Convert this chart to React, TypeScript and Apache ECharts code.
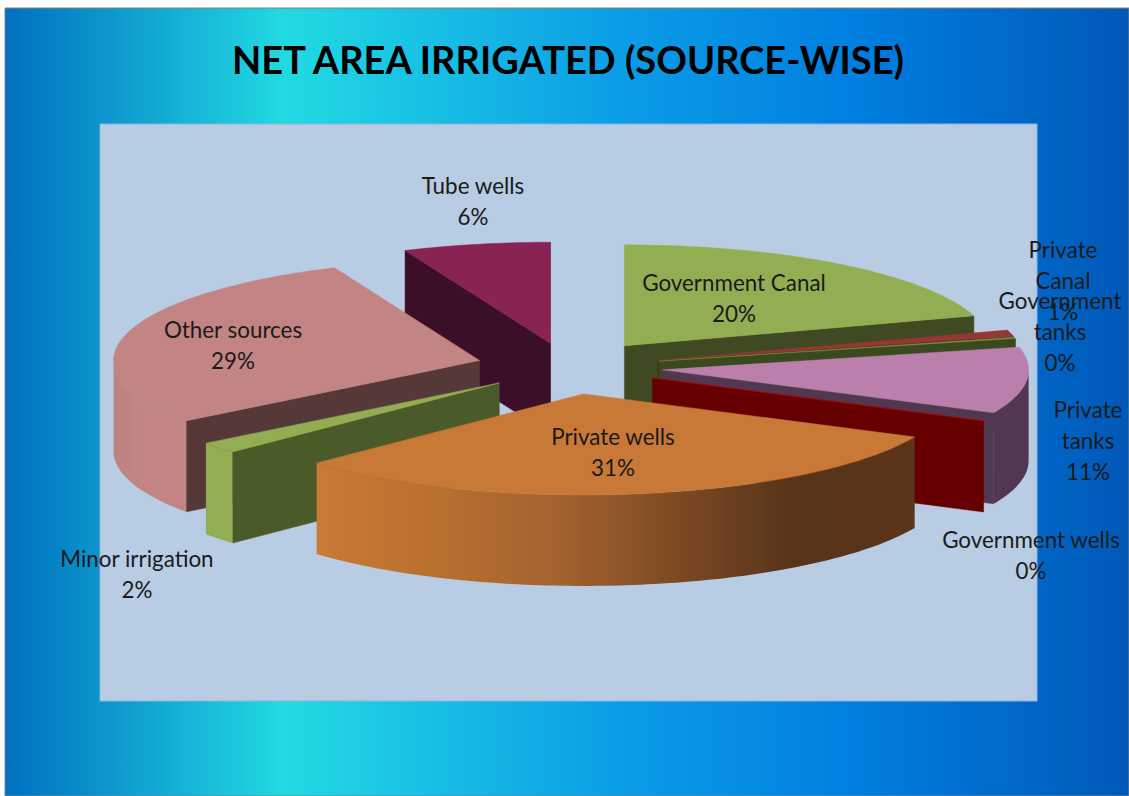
import React, { useEffect, useRef } from "react";
import * as echarts from "echarts";

const titleText = "NET AREA IRRIGATED (SOURCE-WISE)";
const categories = ["Government Canal", "Private Canal", "Government tanks", "Private tanks", "Government wells", "Private wells", "Minor irrigation", "Other sources", "Tube wells"];
const shares = [20.2, 1, 0.2, 10.6, 0, 31, 1.8, 28.71, 6.49];
const explosions = [0.26, 0.255, 0.255, 0.26, 0.255, 0.27, 0.245, 0.25, 0.24];
const topColors = ["#93ae52", "#953735", "#76923c", "#ba80ab", "#c00000", "#c87837", "#93ae52", "#c28583", "#892353"];
const cutColors = ["#3f4a22", "#4b1c1b", "#3b491e", "#513850", "#660000", "#57331a", "#4b5a29", "#573838", "#3a0f27"];
const wallStops: string[][] = [
  ["#3f4a22"], ["#4b1c1b"], ["#3b491e"], ["#513850"], ["#660000"],
  ["#c97a36", "#b8702f", "#a5622f", "#7c4a23", "#57331a", "#5a351a"],
  ["#93ae52"], ["#b98280", "#c28583", "#c28583", "#c28583"], ["#3a0f27"],
];
const paintOrder = [1, 2, 3, 4, 5, 8, 7, 6, 0];
const wrappedLabels = [1, 2, 3];
const labelAnchors = [[734, 298], [1063, 280], [1060, 331], [1088, 440], [1031, 555], [613, 452], [137, 574], [233, 345], [473, 201]];

const PIE = { cx: 568, cy: 367, rx: 366, ry: 101, depth: 91 };
const FONT = "Lato, 'Open Sans', sans-serif";

export default function App() {
  const ref = useRef<HTMLDivElement>(null);
  useEffect(() => {
    const chart = echarts.init(ref.current!, null, { renderer: "svg" });
    const total = shares.reduce((a, b) => a + b, 0);
    const startAngles: number[] = [];
    shares.reduce((acc, v, i) => {
      startAngles[i] = acc;
      return acc + (v / total) * 2 * Math.PI;
    }, 0);

    const renderItem = (params: any) => {
      const i = params.dataIndex;
      const a0 = startAngles[i];
      const a1 = a0 + (shares[i] / total) * 2 * Math.PI;
      const mid = (a0 + a1) / 2;
      const e = explosions[i];
      const ax = PIE.cx + e * PIE.rx * Math.sin(mid);
      const ay = PIE.cy - e * PIE.ry * Math.cos(mid);
      const at = (t: number, dz = 0) => [ax + PIE.rx * Math.sin(t), ay - PIE.ry * Math.cos(t) + dz];
      const arc = (from: number, to: number, dz = 0) => {
        const n = Math.max(1, Math.ceil((to - from) / 0.02));
        const pts: number[][] = [];
        for (let k = 0; k <= n; k++) pts.push(at(from + ((to - from) * k) / n, dz));
        return pts;
      };
      const z = paintOrder[i] * 10;
      const children: any[] = [];
      const cut = (t: number, k: number) => {
        children.push({
          type: "polygon", z2: z + k,
          shape: { points: [[ax, ay], at(t), at(t, PIE.depth), [ax, ay + PIE.depth]] },
          style: { fill: cutColors[i], stroke: cutColors[i], lineWidth: 0.5 },
        });
      };
      if (Math.sin(a0) < 0 && shares[i] > 0) cut(a0, 1);
      if (Math.sin(a1) > 0) cut(a1, 2);
      const w0 = Math.max(a0, Math.PI / 2);
      const w1 = Math.min(a1, (3 * Math.PI) / 2);
      if (w1 > w0) {
        const stops = wallStops[i];
        const fill = stops.length > 1
          ? new echarts.graphic.LinearGradient(0, 0, 1, 0, stops.map((c, s) => ({ offset: s / (stops.length - 1), color: c })))
          : stops[0];
        children.push({
          type: "polygon", z2: z + 3,
          shape: { points: [...arc(w0, w1), ...arc(w0, w1, PIE.depth).reverse()] },
          style: { fill },
        });
      }
      children.push({
        type: "polygon", z2: z + 4,
        shape: { points: [[ax, ay], ...arc(a0, a1)] },
        style: { fill: topColors[i], stroke: topColors[i], lineWidth: 0.5 },
      });
      const name = wrappedLabels.includes(i) ? categories[i].replace(" ", "\n") : categories[i];
      children.push({
        type: "text", z2: 1000,
        style: {
          text: `${name}\n${Math.round((shares[i] / total) * 100)}%`,
          x: labelAnchors[i][0], y: labelAnchors[i][1],
          align: "center", verticalAlign: "middle",
          font: `22.4px ${FONT}`, lineHeight: 31, fill: "#1a1a1a",
        },
      });
      return { type: "group", children };
    };

    chart.setOption({
      animation: false,
      title: {
        text: titleText, left: 563, top: 35, textAlign: "center",
        textStyle: { fontFamily: FONT, fontSize: 38, fontWeight: "bold", color: "#000" },
      },
      graphic: [
        {
          type: "rect", z: -10, silent: true,
          shape: { x: 5, y: 8, width: 1124, height: 788 },
          style: {
            fill: new echarts.graphic.LinearGradient(0, 0, 1, 0, [
              { offset: 0, color: "#0070c0" },
              { offset: 0.25, color: "#22dae2" },
              { offset: 0.55, color: "#0b9ce6" },
              { offset: 0.75, color: "#0080e0" },
              { offset: 1, color: "#0058b8" },
            ]),
            stroke: "#808080", lineWidth: 1,
          },
        },
        {
          type: "rect", z: -9, silent: true,
          shape: { x: 100, y: 124, width: 937, height: 577 },
          style: { fill: "#b8cce4", stroke: "#8db4e2", lineWidth: 1 },
        },
      ],
      series: [{
        type: "custom",
        coordinateSystem: "none",
        data: shares.map((v, i) => ({ name: categories[i], value: v })),
        renderItem,
      }],
    });
    return () => chart.dispose();
  }, []);
  return <div ref={ref} style={{ position: "absolute", left: 0, top: 0, width: 1129, height: 796 }} />;
}
